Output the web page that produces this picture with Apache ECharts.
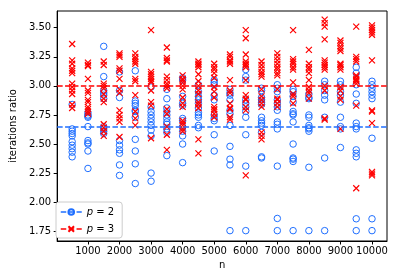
<!DOCTYPE html>
<html>
<head>
<meta charset="utf-8">
<script src="https://cdn.jsdelivr.net/npm/echarts@6/dist/echarts.min.js"></script>
<style>html,body{margin:0;padding:0;background:#fff}#c{width:398px;height:279px}</style>
</head>
<body>
<div id="c"></div>
<script>
const nValues = [500,1000,1500,2000,2500,3000,3500,4000,4500,5000,5500,6000,6500,7000,7500,8000,8500,9000,9500,10000];
const p2Ratios = [
  [2.84,2.63,2.61,2.59,2.57,2.52,2.49,2.46,2.43,2.39],
  [2.77,2.75,2.74,2.73,2.65,2.53,2.51,2.50,2.44,2.29],
  [3.34,3.08,2.96,2.94,2.92,2.89,2.65,2.63,2.61,2.59],
  [3.12,2.96,2.90,2.53,2.49,2.45,2.42,2.32,2.23],
  [3.13,2.87,2.85,2.83,2.79,2.78,2.73,2.54,2.44,2.33,2.16],
  [2.99,2.82,2.78,2.75,2.72,2.69,2.66,2.62,2.57,2.25,2.18],
  [2.97,2.89,2.81,2.78,2.75,2.72,2.69,2.67,2.63,2.60,2.40],
  [3.07,3.05,2.91,2.85,2.83,2.72,2.70,2.65,2.61,2.57,2.50,2.34],
  [3.01,2.95,2.91,2.88,2.85,2.81,2.77,2.75,2.73,2.66,2.64],
  [3.05,3.03,3.01,2.92,2.88,2.75,2.72,2.70,2.58,2.44],
  [2.97,2.94,2.92,2.88,2.79,2.76,2.66,2.48,2.37,2.32,1.755],
  [3.14,3.08,3.05,2.88,2.85,2.82,2.78,2.73,2.58,2.31,1.755],
  [2.98,2.96,2.90,2.88,2.86,2.84,2.73,2.70,2.68,2.66,2.60,2.39,2.38],
  [3.01,2.98,2.95,2.88,2.85,2.82,2.79,2.69,2.67,2.63,2.31,1.86,1.755],
  [2.97,2.95,2.91,2.86,2.78,2.76,2.75,2.69,2.50,2.38,2.37,2.35,1.755],
  [2.93,2.90,2.89,2.75,2.73,2.66,2.64,2.63,2.61,2.30,1.755],
  [3.04,3.01,2.96,2.92,2.88,2.73,2.38,1.755],
  [3.04,3.01,2.95,2.92,2.86,2.73,2.65,2.63,2.47],
  [3.16,3.11,3.01,2.93,2.85,2.68,2.65,2.63,2.45,2.42,2.39,1.857,1.755],
  [3.04,3.01,2.98,2.95,2.92,2.89,2.55,1.857,1.755]
];
const p3Ratios = [
  [3.36,3.22,3.19,3.15,3.13,3.11,3.02,2.99,2.96,2.93,2.84,2.81],
  [3.20,3.18,3.17,3.06,2.96,2.94,2.88,2.86,2.82,2.80,2.78,2.76],
  [3.21,3.18,3.02,3.00,2.98,2.93,2.89,2.86,2.67,2.64,2.61,2.57],
  [3.28,3.265,3.25,3.15,3.13,3.06,2.97,2.94,2.79,2.75,2.72,2.69,2.56],
  [3.28,3.25,3.23,3.21,3.19,3.06,3.04,2.92,2.78,2.72,2.66],
  [3.48,3.12,3.10,3.08,3.06,3.04,3.03,2.96,2.86,2.83,2.55],
  [3.33,3.24,3.22,3.21,3.08,3.05,3.02,3.00,2.98,2.80,2.76,2.65,2.58,2.45],
  [3.09,3.06,3.05,3.03,3.00,2.97,2.90,2.85,2.82,2.70,2.68,2.66,2.63,2.61],
  [3.21,3.19,3.18,3.16,3.10,3.04,3.00,2.96,2.93,2.86,2.84,2.81,2.54,2.42],
  [3.19,3.16,3.14,3.11,3.07,2.99,2.95,2.90,2.82,2.80,2.79,2.76,2.73],
  [3.27,3.25,3.22,3.21,3.19,3.05,2.96,2.94,2.85,2.81,2.80,2.73,2.71],
  [3.48,3.41,3.27,3.21,3.19,3.18,3.16,3.05,2.92,2.89,2.88,2.82,2.79,2.23],
  [3.21,3.18,3.15,3.12,3.10,3.08,2.97,2.91,2.88,2.85,2.82,2.60,2.57,2.54],
  [3.28,3.25,3.22,3.19,3.16,3.14,3.11,3.09,2.97,2.89,2.88,2.85,2.82],
  [3.48,3.23,3.21,3.19,3.16,3.14,3.03,2.93,2.91,2.85],
  [3.31,3.19,3.16,3.14,3.11,3.05,2.99,2.96,2.94,2.89],
  [3.57,3.54,3.51,3.40,3.22,3.20,3.18,3.16,3.14,3.00,2.96,2.72,2.71],
  [3.39,3.37,3.34,3.32,3.30,3.19,3.18,3.16,3.14,2.99,2.96,2.91,2.88,2.63],
  [3.51,3.25,3.23,3.21,3.09,3.08,3.06,3.05,3.04,3.02,2.83,2.12],
  [3.52,3.50,3.48,3.46,3.44,3.22,2.79,2.78,2.68,2.26,2.245,2.23]
];
const refLineP2 = 2.65;
const refLineP3 = 3.00;
const xTickLabels = [1000,2000,3000,4000,5000,6000,7000,8000,9000,10000];
const yTickLabels = [1.75,2.00,2.25,2.50,2.75,3.00,3.25,3.50];
const seriesNames = ['p = 2','p = 3'];

const BLUE = '#1f6fff', RED = '#ff0000';
function pairs(arr){ const out=[]; arr.forEach((col,i)=>col.forEach(v=>out.push([nValues[i],v]))); return out; }
const dash = [5.5,2.4];

const chart = echarts.init(document.getElementById('c'), null, {renderer:'canvas'});
chart.setOption({
  animation:false,
  backgroundColor:'#fff',
  textStyle:{fontFamily:'DejaVu Sans'},
  grid:{left:50,right:11,top:11,bottom:38,show:true,borderColor:'#000',borderWidth:1},
  legend:{
    orient:'vertical', left:56, bottom:41,
    backgroundColor:'#fff', borderColor:'#cccccc', borderWidth:1, borderRadius:3,
    padding:[5,8,4,4], itemGap:7, itemWidth:21, itemHeight:7,
    data:seriesNames,
    lineStyle:{opacity:1,width:1.5,type:dash},
    textStyle:{fontSize:10,color:'#000',fontFamily:'DejaVu Sans',rich:{i:{fontStyle:'italic',fontSize:10,fontFamily:'DejaVu Sans'}}},
    formatter:function(name){ const parts=name.split(' = '); return '{i|'+parts[0]+'} = '+parts[1]; }
  },
  xAxis:{
    type:'value', min:25, max:10475,
    name:'n', nameLocation:'middle', nameGap:17,
    nameTextStyle:{fontSize:10,color:'#000'},
    axisLine:{lineStyle:{color:'#000',width:1}},
    axisTick:{show:true,length:3.5,lineStyle:{color:'#000'},customValues:xTickLabels},
    axisLabel:{color:'#000',fontSize:10,margin:5,customValues:xTickLabels,formatter:v=>String(v),hideOverlap:false},
    splitLine:{show:false}
  },
  yAxis:{
    type:'value', min:1.666, max:3.644,
    name:'iterations ratio', nameLocation:'middle', nameGap:34,
    nameTextStyle:{fontSize:10,color:'#000'},
    axisLine:{show:true,lineStyle:{color:'#000',width:1}},
    axisTick:{show:true,length:3.5,lineStyle:{color:'#000'},customValues:yTickLabels},
    axisLabel:{color:'#000',fontSize:10,margin:6,customValues:yTickLabels,formatter:v=>v.toFixed(2)},
    splitLine:{show:false}
  },
  series:[
    {
      name:seriesNames[0], type:'line', data:pairs(p2Ratios),
      symbol:'circle', symbolSize:6.5, showSymbol:true,
      itemStyle:{color:'rgba(0,0,0,0)',borderColor:BLUE,borderWidth:1},
      lineStyle:{color:BLUE,width:0,opacity:0,type:dash},
      emphasis:{disabled:true}, z:2,
      markLine:{silent:true,symbol:['none','none'],label:{show:false},
        lineStyle:{color:BLUE,width:1.5,type:dash,opacity:1},
        data:[{yAxis:refLineP2}]}
    },
    {
      name:seriesNames[1], type:'line', data:pairs(p3Ratios),
      symbol:'path://M0,0L10,10M10,0L0,10', symbolSize:6, showSymbol:true,
      itemStyle:{color:'rgba(0,0,0,0)',borderColor:RED,borderWidth:1.2},
      lineStyle:{color:RED,width:0,opacity:0,type:dash},
      emphasis:{disabled:true}, z:3,
      markLine:{silent:true,symbol:['none','none'],label:{show:false},
        lineStyle:{color:RED,width:1.5,type:dash,opacity:1},
        data:[{yAxis:refLineP3}]}
    }
  ]
});
</script>
</body>
</html>
